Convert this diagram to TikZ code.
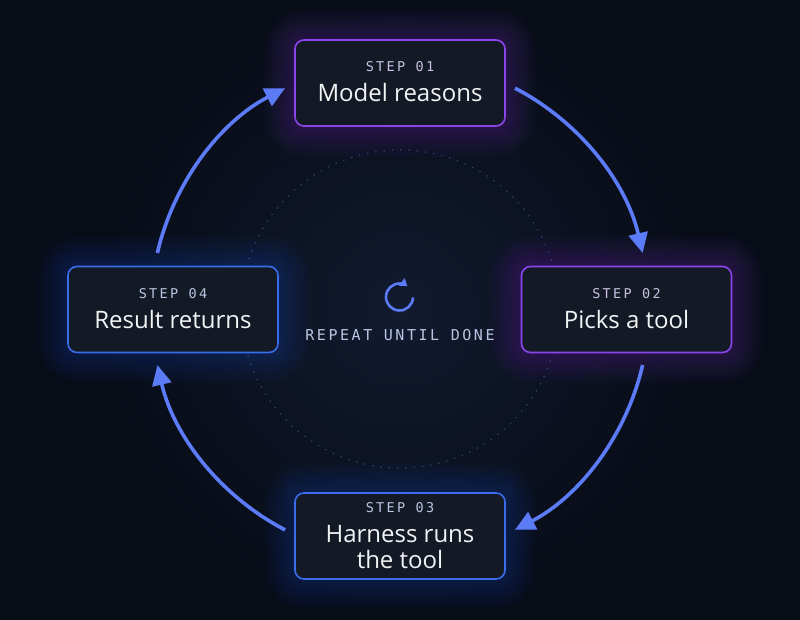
\documentclass[tikz,border=0pt]{standalone}
\usepackage{fontspec}
\setmainfont{Open Sans}
\newfontfamily\monof[LetterSpace=17]{DejaVu Sans Mono}
\usetikzlibrary{arrows.meta,calc}
\definecolor{bgout}{HTML}{080C17}
\definecolor{bgin}{HTML}{111A2F}
\definecolor{boxfill}{HTML}{141A25}
\definecolor{purp}{HTML}{8B45EC}
\definecolor{blu}{HTML}{3B6CEB}
\definecolor{arrowc}{HTML}{5B7BF7}
\definecolor{dotc}{HTML}{34456A}
\definecolor{steppurp}{HTML}{C9C2E2}
\definecolor{stepblu}{HTML}{B9C5E2}
\definecolor{maintxt}{HTML}{F2F3F5}
\newcommand\myglow[2]{%
  \foreach \g [evaluate=\g as \r using 9+2.5*\g, evaluate=\g as \d using 2.4*\g] in {1,...,13}{%
    \fill[#2, opacity=0.02, rounded corners=\r pt]
      ($(#1)+(-105-\d,-43-\d)$) rectangle ($(#1)+(105+\d,43+\d)$);}}
\begin{document}
\begin{tikzpicture}[x=1pt,y=1pt,
  stepbox/.style={draw=#1, line width=1.6pt, fill=boxfill, rounded corners=9pt,
    minimum width=210pt, minimum height=86pt, inner sep=0pt},
  steptxt/.style={text=#1, font=\monof\fontsize{13.5}{15}\selectfont, inner sep=0pt, anchor=base},
  maintext/.style={text=maintxt, font=\fontsize{24}{26}\selectfont, inner sep=0pt, anchor=base},
  flow/.style={draw=arrowc, line width=3.6pt, -{Triangle[length=20pt,width=19pt]}}]
\useasboundingbox (0,0) rectangle (800,619);
\fill[bgout] (-10,-10) rectangle (810,629);
\shade[inner color=bgin, outer color=bgout] (400,310) circle (300);
\coordinate (c) at (400,310);
\coordinate (p1) at (400,536);
\coordinate (p2) at (626.5,309.5);
\coordinate (p3) at (400,83);
\coordinate (p4) at (173,309.5);
% dotted ring
\draw[dotc, line width=1.7pt, line cap=round, dash pattern=on 0pt off 8.3pt] (c) circle (159);
% glows
\myglow{p1}{purp}
\myglow{p2}{purp}
\myglow{p3}{blu}
\myglow{p4}{blu}
% boxes
\node[stepbox=purp] (b1) at (p1) {};
\node[stepbox=purp] (b2) at (p2) {};
\node[stepbox=blu] (b3) at (p3) {};
\node[stepbox=blu] (b4) at (p4) {};
% texts
\node[steptxt=steppurp] (s1) at ($(b1.center)+(0,11)$) {STEP 01};
\node[maintext] (m1) at ($(b1.center)+(0,-19)$) {Model reasons};
\node[steptxt=steppurp] (s2) at ($(b2.center)+(0,11)$) {STEP 02};
\node[maintext] (m2) at ($(b2.center)+(0,-19)$) {Picks a tool};
\node[steptxt=stepblu] (s3) at ($(b3.center)+(0,24)$) {STEP 03};
\node[maintext] (m3a) at ($(b3.center)+(0,-6)$) {Harness runs};
\node[maintext] (m3b) at ($(b3.center)+(0,-32)$) {the tool};
\node[steptxt=stepblu] (s4) at ($(b4.center)+(0,11)$) {STEP 04};
\node[maintext] (m4) at ($(b4.center)+(0,-19)$) {Result returns};
% arrows around the cycle
\draw[flow] (c) ++(62.5:249) arc[start angle=62.5, end angle=13, radius=249];
\draw[flow] (c) ++(-13:249) arc[start angle=-13, end angle=-62.5, radius=249];
\draw[flow] (c) ++(-117.5:249) arc[start angle=-117.5, end angle=-167, radius=249];
\draw[flow] (c) ++(167:249) arc[start angle=167, end angle=117.5, radius=249];
% center icon and label
\coordinate (ic) at (399.5,322);
\draw[arrowc, line width=2.6pt, -{Triangle[length=7pt,width=9pt]}] (ic) ++(-2:13.5) arc[start angle=-2, end angle=-306, radius=13.5];
\node[text=stepblu, font=\monof\fontsize{15}{17}\selectfont, inner sep=0pt, anchor=base] (rep) at (400,278) {REPEAT UNTIL DONE};
\end{tikzpicture}
\end{document}
